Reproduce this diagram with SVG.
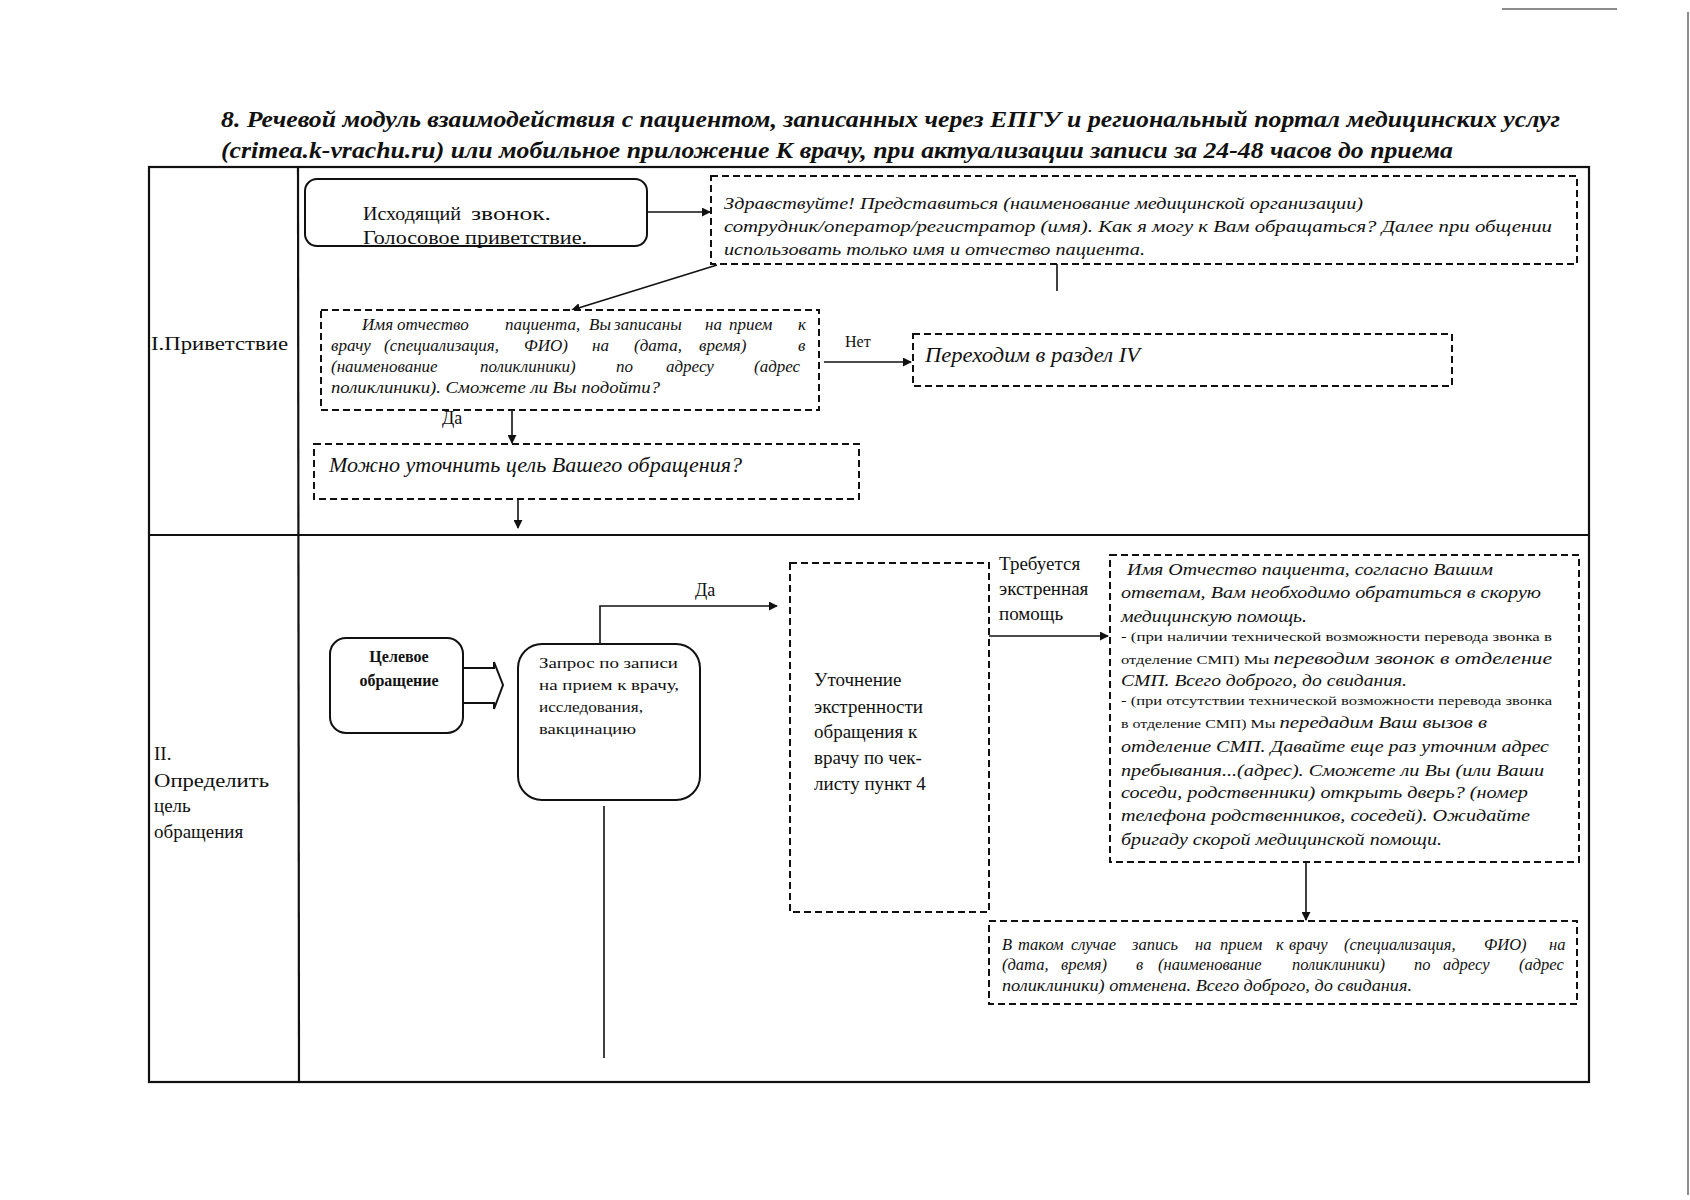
<svg xmlns="http://www.w3.org/2000/svg" width="1690" height="1200" viewBox="0 0 1690 1200">
<style>
text{font-family:"Liberation Serif","Times New Roman","DejaVu Serif",serif;fill:#111}
.ti{font-weight:bold;font-style:italic;font-size:23px}
.it{font-style:italic}
.lbl{font-size:19px}
.solid{fill:#fff;stroke:#111;stroke-width:2}
.dash{fill:#fff;stroke:#111;stroke-width:2;stroke-dasharray:7 4}
.grid{fill:none;stroke:#111;stroke-width:2.2}
.con{fill:none;stroke:#111;stroke-width:1.6}
.art{stroke:#666;stroke-width:1.5;fill:none}
</style>
<defs>
<marker id="ah" viewBox="0 0 10 10" refX="9" refY="5" markerWidth="9" markerHeight="9" markerUnits="userSpaceOnUse" orient="auto">
<path d="M0,0 L10,5 L0,10 z" fill="#111"/>
</marker>
</defs>
<rect width="1690" height="1200" fill="#fff"/>
<line class="art" x1="1502" y1="9" x2="1617" y2="9"/>
<line class="art" x1="1688" y1="12" x2="1688" y2="1195"/>

<g id="title">
<text class="ti" x="221" y="127" textLength="1339" lengthAdjust="spacingAndGlyphs">8. Речевой модуль взаимодействия с пациентом, записанных через ЕПГУ и региональный портал медицинских услуг</text>
<text class="ti" x="221" y="158" textLength="1232" lengthAdjust="spacingAndGlyphs">(crimea.k-vrachu.ru) или мобильное приложение К врачу, при актуализации записи за 24-48 часов до приема</text>
</g>

<g id="table">
<rect class="grid" x="149" y="167" width="1440" height="915"/>
<line class="grid" x1="298" y1="167" x2="299" y2="1082"/>
<line class="grid" x1="149" y1="535" x2="1589" y2="535"/>
<text class="lbl" x="151" y="350" textLength="137" lengthAdjust="spacingAndGlyphs">I.Приветствие</text>
<text class="lbl" x="154" y="760">II.</text>
<text class="lbl" x="154" y="787" textLength="115" lengthAdjust="spacingAndGlyphs">Определить</text>
<text class="lbl" x="154" y="812">цель</text>
<text class="lbl" x="154" y="838">обращения</text>
</g>

<g id="connectors">
<line class="con" x1="647" y1="212" x2="710" y2="212" marker-end="url(#ah)"/>
<line class="con" x1="1057" y1="264" x2="1057" y2="291"/>
<line class="con" x1="717" y1="265" x2="572" y2="310" marker-end="url(#ah)"/>
<line class="con" x1="824" y1="362" x2="911" y2="362" marker-end="url(#ah)"/>
<line class="con" x1="512" y1="410" x2="512" y2="443" marker-end="url(#ah)"/>
<line class="con" x1="518" y1="499" x2="518" y2="528" marker-end="url(#ah)"/>
<polygon class="solid" points="463,668 494,668 494,662 503,685 494,709 494,703 463,703" stroke-width="1.6"/>
<polyline class="con" points="600,644 600,606 777,606" marker-end="url(#ah)"/>
<line class="con" x1="604" y1="806" x2="604" y2="1058"/>
<line class="con" x1="989" y1="636" x2="1108" y2="636" marker-end="url(#ah)"/>
<line class="con" x1="1306" y1="862" x2="1306" y2="920" marker-end="url(#ah)"/>
<text x="845" y="347" font-size="16">Нет</text>
<text x="442" y="424" font-size="18">Да</text>
<text x="695" y="596" font-size="18">Да</text>
<text class="lbl" x="999" y="570">Требуется</text>
<text class="lbl" x="999" y="595">экстренная</text>
<text class="lbl" x="999" y="620">помощь</text>
</g>

<g id="n1">
<rect class="solid" x="305" y="179" width="342" height="67" rx="12"/>
<text x="363" y="220" font-size="19" textLength="98" lengthAdjust="spacingAndGlyphs">Исходящий</text>
<text x="471" y="220" font-size="19" textLength="80" lengthAdjust="spacingAndGlyphs">звонок.</text>
<text x="363" y="244" font-size="19" textLength="224" lengthAdjust="spacingAndGlyphs">Голосовое приветствие.</text>
</g>

<g id="n2">
<rect class="dash" x="711" y="176" width="866" height="88"/>
<text class="it" x="724" y="209" font-size="17" textLength="639" lengthAdjust="spacingAndGlyphs">Здравствуйте!  Представиться (наименование медицинской организации)</text>
<text class="it" x="724" y="232" font-size="17" textLength="828" lengthAdjust="spacingAndGlyphs">сотрудник/оператор/регистратор (имя). Как я могу к Вам обращаться? Далее при общении</text>
<text class="it" x="724" y="255" font-size="17" textLength="421" lengthAdjust="spacingAndGlyphs">использовать только имя и отчество пациента.</text>
</g>

<g id="n3">
<rect class="dash" x="321" y="310" width="498" height="100"/>
<text class="it" y="330" font-size="17"><tspan x="362">Имя</tspan><tspan x="397">отчество</tspan><tspan x="505">пациента,</tspan><tspan x="589">Вы</tspan><tspan x="614">записаны</tspan><tspan x="705">на</tspan><tspan x="729">прием</tspan><tspan x="798">к</tspan></text>
<text class="it" y="351" font-size="17"><tspan x="331">врачу</tspan><tspan x="384">(специализация,</tspan><tspan x="524">ФИО)</tspan><tspan x="592">на</tspan><tspan x="634">(дата,</tspan><tspan x="699">время)</tspan><tspan x="798">в</tspan></text>
<text class="it" y="372" font-size="17"><tspan x="331">(наименование</tspan><tspan x="480">поликлиники)</tspan><tspan x="616">по</tspan><tspan x="666">адресу</tspan><tspan x="754">(адрес</tspan></text>
<text class="it" x="331" y="393" font-size="16.5" textLength="329" lengthAdjust="spacingAndGlyphs">поликлиники). Сможете ли Вы подойти?</text>
</g>

<g id="n4">
<rect class="dash" x="913" y="334" width="539" height="52"/>
<text class="it" x="925" y="362" font-size="20" textLength="215" lengthAdjust="spacingAndGlyphs">Переходим в раздел IV</text>
</g>

<g id="n5">
<rect class="dash" x="314" y="444" width="545" height="55"/>
<text class="it" x="329" y="472" font-size="20" textLength="413" lengthAdjust="spacingAndGlyphs">Можно уточнить цель Вашего обращения?</text>
</g>

<g id="n6">
<rect class="solid" x="330" y="638" width="133" height="95" rx="16"/>
<text x="399" y="662" font-size="16" font-weight="bold" text-anchor="middle">Целевое</text>
<text x="399" y="686" font-size="16" font-weight="bold" text-anchor="middle">обращение</text>
</g>

<g id="n7">
<rect class="solid" x="518" y="644" width="182" height="156" rx="24"/>
<text x="539" y="668" font-size="14.5" textLength="139" lengthAdjust="spacingAndGlyphs">Запрос по записи</text>
<text x="539" y="690" font-size="14.5" textLength="140" lengthAdjust="spacingAndGlyphs">на прием к врачу,</text>
<text x="539" y="712" font-size="14.5" textLength="104" lengthAdjust="spacingAndGlyphs">исследования,</text>
<text x="539" y="734" font-size="14.5" textLength="97" lengthAdjust="spacingAndGlyphs">вакцинацию</text>
</g>

<g id="n8">
<rect class="dash" x="790" y="563" width="199" height="349"/>
<text class="lbl" x="814" y="686">Уточнение</text>
<text class="lbl" x="814" y="713">экстренности</text>
<text class="lbl" x="814" y="738">обращения к</text>
<text class="lbl" x="814" y="764">врачу по чек-</text>
<text class="lbl" x="814" y="790">листу пункт 4</text>
</g>

<g id="n9">
<rect class="dash" x="1110" y="555" width="469" height="307"/>
<text class="it" x="1127" y="575" font-size="17" textLength="366" lengthAdjust="spacingAndGlyphs">Имя Отчество пациента, согласно Вашим</text>
<text class="it" x="1121" y="598" font-size="17" textLength="420" lengthAdjust="spacingAndGlyphs">ответам, Вам необходимо обратиться в скорую</text>
<text class="it" x="1121" y="622" font-size="17" textLength="186" lengthAdjust="spacingAndGlyphs">медицинскую помощь.</text>
<text x="1121" y="641" font-size="13" textLength="431" lengthAdjust="spacingAndGlyphs">- (при наличии технической возможности перевода звонка в</text>
<text x="1121" y="664" font-size="17" textLength="431" lengthAdjust="spacingAndGlyphs"><tspan font-size="13">отделение СМП) Мы </tspan><tspan class="it">переводим звонок в отделение</tspan></text>
<text class="it" x="1121" y="686" font-size="17" textLength="286" lengthAdjust="spacingAndGlyphs">СМП. Всего доброго, до свидания.</text>
<text x="1121" y="705" font-size="13" textLength="431" lengthAdjust="spacingAndGlyphs">- (при отсутствии технической возможности перевода звонка</text>
<text x="1121" y="728" font-size="17" textLength="366" lengthAdjust="spacingAndGlyphs"><tspan font-size="13">в отделение СМП) Мы </tspan><tspan class="it">передадим Ваш вызов в</tspan></text>
<text class="it" x="1121" y="752" font-size="17" textLength="428" lengthAdjust="spacingAndGlyphs">отделение СМП. Давайте еще раз уточним адрес</text>
<text class="it" x="1121" y="776" font-size="17" textLength="423" lengthAdjust="spacingAndGlyphs">пребывания...(адрес). Сможете ли Вы (или Ваши</text>
<text class="it" x="1121" y="798" font-size="17" textLength="407" lengthAdjust="spacingAndGlyphs">соседи, родственники) открыть дверь? (номер</text>
<text class="it" x="1121" y="821" font-size="17" textLength="409" lengthAdjust="spacingAndGlyphs">телефона родственников, соседей). Ожидайте</text>
<text class="it" x="1121" y="845" font-size="17" textLength="321" lengthAdjust="spacingAndGlyphs">бригаду скорой медицинской помощи.</text>
</g>

<g id="n10">
<rect class="dash" x="989" y="921" width="588" height="83"/>
<text class="it" y="950" font-size="16.5"><tspan x="1002">В</tspan><tspan x="1018">таком</tspan><tspan x="1071">случае</tspan><tspan x="1132">запись</tspan><tspan x="1195">на</tspan><tspan x="1220">прием</tspan><tspan x="1276">к</tspan><tspan x="1289">врачу</tspan><tspan x="1344">(специализация,</tspan><tspan x="1484">ФИО)</tspan><tspan x="1549">на</tspan></text>
<text class="it" y="970" font-size="16.5"><tspan x="1002">(дата,</tspan><tspan x="1061">время)</tspan><tspan x="1136">в</tspan><tspan x="1158">(наименование</tspan><tspan x="1292">поликлиники)</tspan><tspan x="1414">по</tspan><tspan x="1443">адресу</tspan><tspan x="1519">(адрес</tspan></text>
<text class="it" x="1002" y="991" font-size="16" textLength="410" lengthAdjust="spacingAndGlyphs">поликлиники) отменена. Всего доброго, до свидания.</text>
</g>
</svg>
